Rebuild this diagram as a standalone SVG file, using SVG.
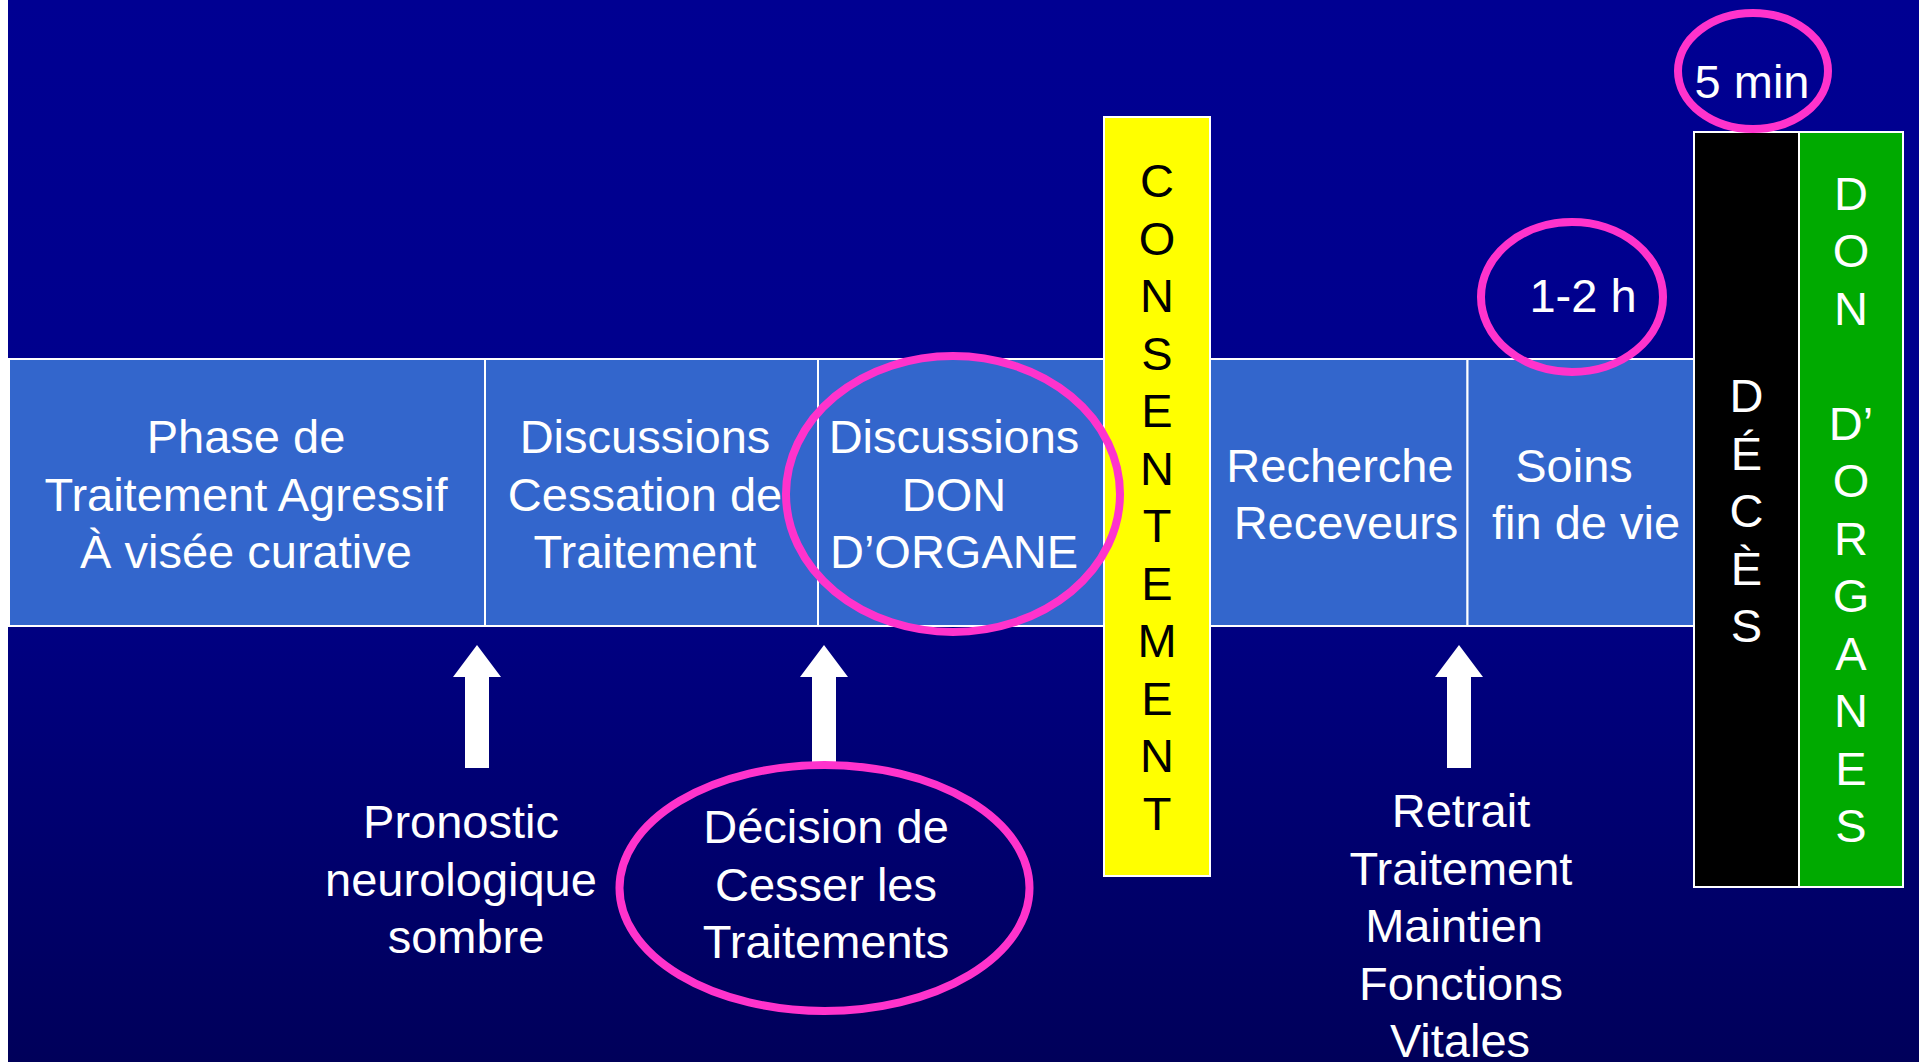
<svg xmlns="http://www.w3.org/2000/svg" width="1919" height="1062" viewBox="0 0 1919 1062">
<defs>
<linearGradient id="bg" x1="0" y1="0" x2="0" y2="1">
<stop offset="0" stop-color="#000092"/>
<stop offset="0.5" stop-color="#00008A"/>
<stop offset="1" stop-color="#00005A"/>
</linearGradient>
<style>
.cell{fill:#3366CC;stroke:#FFFFFF;stroke-width:2}
.t{font-family:"Liberation Sans",Arial,sans-serif;font-size:47px;fill:#FFFFFF;text-anchor:middle}
.tb{font-family:"Liberation Sans",Arial,sans-serif;font-size:47px;fill:#000000;text-anchor:middle}
.ring{fill:none;stroke:#FF33CC;stroke-width:8}
.arrow{fill:#FFFFFF}
</style>
</defs>
<rect x="0" y="0" width="1919" height="1062" fill="#FFFFFF"/>
<rect x="8" y="0" width="1911" height="1062" fill="url(#bg)"/>

<g id="connectors">
<polygon class="arrow" points="477,645 501,677 489,677 489,768 465,768 465,677 453,677"/>
<polygon class="arrow" points="824,645 848,677 836,677 836,768 812,768 812,677 800,677"/>
<polygon class="arrow" points="1459,645 1483,677 1471,677 1471,768 1447,768 1447,677 1435,677"/>
</g>

<g id="phase">
<rect class="cell" x="9" y="359" width="476" height="267"/>
<text class="t"><tspan x="246" y="453">Phase de</tspan><tspan x="246" y="510.5">Traitement Agressif</tspan><tspan x="246" y="568">À visée curative</tspan></text>
</g>
<g id="cessation">
<rect class="cell" x="485" y="359" width="333" height="267"/>
<text class="t"><tspan x="645" y="453">Discussions</tspan><tspan x="645" y="510.5">Cessation de</tspan><tspan x="645" y="568">Traitement</tspan></text>
</g>
<g id="don">
<rect class="cell" x="818" y="359" width="286" height="267"/>
<text class="t"><tspan x="954" y="453">Discussions</tspan><tspan x="954" y="510.5">DON</tspan><tspan x="954" y="568">D’ORGANE</tspan></text>
</g>
<g id="recherche">
<rect class="cell" x="1210" y="359" width="257.5" height="267"/>
<text class="t"><tspan x="1340" y="481.5">Recherche</tspan><tspan x="1346" y="539">Receveurs</tspan></text>
</g>
<g id="soins">
<rect class="cell" x="1467.5" y="359" width="226.5" height="267"/>
<text class="t"><tspan x="1574" y="481.5">Soins</tspan><tspan x="1586" y="539">fin de vie</tspan></text>
</g>

<g id="consentement">
<rect x="1104" y="117" width="106" height="759" fill="#FFFF00" stroke="#FFFFFF" stroke-width="2"/>
<text class="tb"><tspan x="1157" y="197">C</tspan><tspan x="1157" y="254.5">O</tspan><tspan x="1157" y="312">N</tspan><tspan x="1157" y="369.5">S</tspan><tspan x="1157" y="427">E</tspan><tspan x="1157" y="484.5">N</tspan><tspan x="1157" y="542">T</tspan><tspan x="1157" y="599.5">E</tspan><tspan x="1157" y="657">M</tspan><tspan x="1157" y="714.5">E</tspan><tspan x="1157" y="772">N</tspan><tspan x="1157" y="829.5">T</tspan></text>
</g>

<g id="deces">
<rect x="1694" y="132" width="105" height="755" fill="#000000" stroke="#FFFFFF" stroke-width="2"/>
<text class="t"><tspan x="1746.5" y="412">D</tspan><tspan x="1746.5" y="469.5">É</tspan><tspan x="1746.5" y="527">C</tspan><tspan x="1746.5" y="584.5">È</tspan><tspan x="1746.5" y="642">S</tspan></text>
</g>

<g id="don-organes">
<rect x="1799" y="132" width="104" height="755" fill="#00AA00" stroke="#FFFFFF" stroke-width="2"/>
<text class="t"><tspan x="1851" y="209.5">D</tspan><tspan x="1851" y="267">O</tspan><tspan x="1851" y="324.5">N</tspan><tspan x="1851" y="439.5">D’</tspan><tspan x="1851" y="497">O</tspan><tspan x="1851" y="554.5">R</tspan><tspan x="1851" y="612">G</tspan><tspan x="1851" y="669.5">A</tspan><tspan x="1851" y="727">N</tspan><tspan x="1851" y="784.5">E</tspan><tspan x="1851" y="842">S</tspan></text>
</g>

<g id="pronostic">
<text class="t"><tspan x="461" y="838">Pronostic</tspan><tspan x="461" y="895.5">neurologique</tspan><tspan x="466" y="953">sombre</tspan></text>
</g>
<g id="decision">
<text class="t"><tspan x="826" y="843">Décision de</tspan><tspan x="826" y="900.5">Cesser les</tspan><tspan x="826" y="958">Traitements</tspan></text>
</g>
<g id="retrait">
<text class="t"><tspan x="1461" y="827">Retrait</tspan><tspan x="1461" y="884.5">Traitement</tspan><tspan x="1454" y="942">Maintien</tspan><tspan x="1461" y="999.5">Fonctions</tspan><tspan x="1460" y="1057">Vitales</tspan></text>
</g>

<g id="time-1-2h">
<text class="t" x="1583" y="312">1-2 h</text>
<ellipse class="ring" cx="1572" cy="297" rx="91" ry="75"/>
</g>
<g id="time-5min">
<text class="t" x="1752" y="97.5">5 min</text>
<ellipse class="ring" cx="1753" cy="71" rx="75" ry="58"/>
</g>
<g id="highlights">
<ellipse class="ring" cx="953" cy="494" rx="167" ry="138"/>
<ellipse class="ring" cx="824.5" cy="888" rx="205" ry="123"/>
</g>
</svg>
